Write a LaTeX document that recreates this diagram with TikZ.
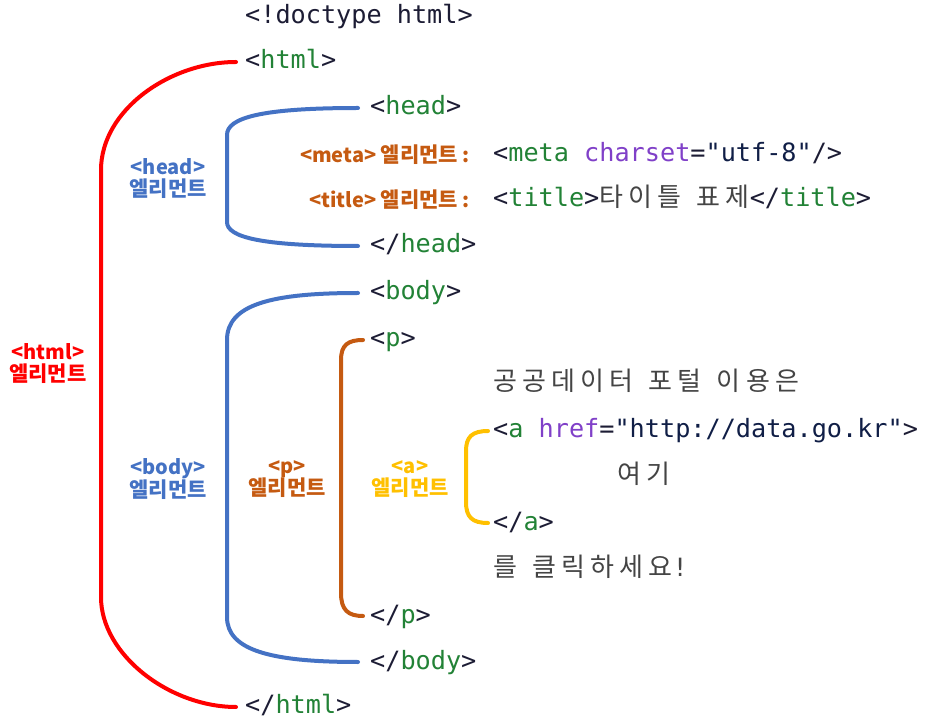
\documentclass[tikz,border=0pt]{standalone}
\usepackage{fontspec}
\setmainfont{DejaVu Sans}
\newfontfamily\monof{DejaVu Sans Mono}
\newfontfamily\krf{Noto Sans CJK KR}
\newfontfamily\krcode{Noto Sans CJK KR}[LetterSpace=20]
\definecolor{cdark}{RGB}{28,28,52}
\definecolor{ctag}{RGB}{34,130,54}
\definecolor{cattr}{RGB}{128,64,200}
\definecolor{cstr}{RGB}{16,30,70}
\definecolor{ckr}{RGB}{68,68,68}
\definecolor{cred}{RGB}{255,0,0}
\definecolor{cblue}{RGB}{68,114,196}
\definecolor{cbrown}{RGB}{197,90,17}
\definecolor{cyel}{RGB}{255,192,0}
\newcommand\tg[1]{\textcolor{ctag}{#1}}
\newcommand\at[1]{\textcolor{cattr}{#1}}
\newcommand\st[1]{\textcolor{cstr}{#1}}
\newcommand\kt[1]{{\krcode\fontsize{26}{30}\selectfont\color{ckr}#1}}
\newcommand\kw[1]{{\fontsize{21}{22}\selectfont #1}}
\tikzset{
  code/.style={anchor=west, inner sep=0pt, yshift=-3pt, text height=18pt, text depth=4pt, text=cdark,
    font=\monof\fontsize{25.2}{30}\selectfont},
  lbl/.style={inner sep=0pt, yshift=-2pt, align=center, font=\krf\bfseries\fontsize{20}{22}\selectfont},
  brk/.style={line width=4pt, line cap=round}
}
\begin{document}
\begin{tikzpicture}[x=1pt,y=-1pt]
\useasboundingbox (0,0) rectangle (930,719);
% code lines
\node[code] (l0) at (245,14) {<!doctype html>};
\node[code] (l1) at (245,59) {<\tg{html}>};
\node[code] (l2) at (370,105) {<\tg{head}>};
\node[code] (l3) at (493,152) {<\tg{meta} \at{charset}=\st{"utf-8"}/>};
\node[code] (l4) at (493,197) {<\tg{title}>\kt{타이틀}\ \kt{표제}</\tg{title}>};
\node[code] (l5) at (370,243) {</\tg{head}>};
\node[code] (l6) at (370,290) {<\tg{body}>};
\node[code] (l7) at (370,337) {<\tg{p}>};
\node[code] (l8) at (493,381) {\kt{공공데이터}\ \kt{포털}\ \kt{이용은}};
\node[code] (l9) at (493,428) {<\tg{a} \at{href}=\st{"http://data.go.kr"}>};
\node[code] (l10) at (617,473) {\kt{여기}};
\node[code] (l11) at (493,520) {</\tg{a}>};
\node[code] (l12) at (493,566) {\kt{를}\ \kt{클릭하세요}\textcolor{ckr}{!}};
\node[code] (l13) at (370,613) {</\tg{p}>};
\node[code] (l14) at (370,659) {</\tg{body}>};
\node[code] (l15) at (245,703) {</\tg{html}>};
% labels
\node[lbl, text=cred] (lhtml) at (48,362) {<html>\\\kw{엘리먼트}};
\node[lbl, text=cblue] (lhead) at (168,177) {<head>\\\kw{엘리먼트}};
\node[lbl, text=cblue] (lbody) at (168,477) {<body>\\\kw{엘리먼트}};
\node[lbl, text=cbrown] (lp) at (287,477) {<p>\\\kw{엘리먼트}};
\node[lbl, text=cyel] (la) at (410,477) {<a>\\\kw{엘리먼트}};
\node[lbl, text=cbrown, anchor=east] (lmeta) at (470,153) {<meta>\ \kw{엘리먼트}\ :};
\node[lbl, text=cbrown, anchor=east] (ltitle) at (470,198) {<title>\ \kw{엘리먼트}\ :};
% brackets
\draw[brk, cred] ([xshift=-9pt]l1.west) .. controls (170,62) and (101,110) .. (101,170)
  -- (101,597) .. controls (101,655) and (170,707) .. ([xshift=-9pt,yshift=-1pt]l15.west);
\draw[brk, cblue] ([xshift=-12pt]l2.west) .. controls (260,108) and (227,118) .. (227,135)
  -- (227,222) .. controls (227,237) and (260,246) .. ([xshift=-12pt]l5.west);
\draw[brk, cblue] ([xshift=-12pt]l6.west) .. controls (270,293) and (227,305) .. (227,340)
  -- (227,617) .. controls (227,650) and (270,662) .. ([xshift=-12pt]l14.west);
\draw[brk, cbrown] ([xshift=-7pt]l7.west) .. controls (348,340) and (341,345) .. (341,360)
  -- (341,593) .. controls (341,610) and (348,616) .. ([xshift=-7pt]l13.west);
\draw[brk, cyel] ([xshift=-5pt]l9.west) .. controls (472,431) and (466,437) .. (466,451)
  -- (466,502) .. controls (466,517) and (472,523) .. ([xshift=-5pt]l11.west);
\end{tikzpicture}
\end{document}
